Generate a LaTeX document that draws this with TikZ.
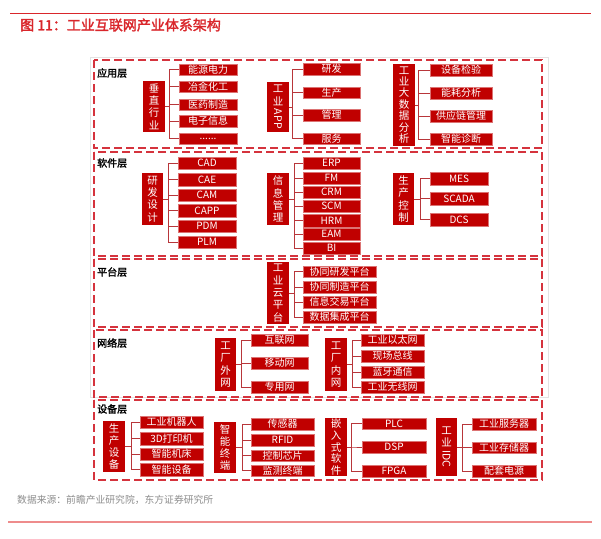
\documentclass[tikz,border=0pt]{standalone}
\usepackage{fontspec}
\setmainfont{Noto Sans CJK SC}
\newfontfamily\cjkbold[FakeBold=2]{Noto Sans CJK SC}
\definecolor{boxred}{HTML}{C00000}
\definecolor{dashred}{HTML}{D5333D}
\definecolor{linered}{HTML}{B8363A}
\definecolor{titlered}{HTML}{D9262B}
\definecolor{framegray}{HTML}{E3E3E3}
\definecolor{srcgray}{HTML}{8C8C8C}
\definecolor{footline}{HTML}{EE8C8C}
\tikzset{
  itembox/.style={fill=boxred, draw=boxred!55!white, line width=0.5pt, text=white, inner sep=0pt, font=\fontsize{10}{10}\selectfont},
  catbox/.style={fill=boxred, text=white, inner sep=0pt, align=center, font=\fontsize{10.5}{12.3}\selectfont},
  layerbox/.style={draw=dashred, line width=1.3pt, dash pattern=on 8pt off 4pt},
  conn/.style={draw=linered, line width=0.9pt},
  layerlabel/.style={anchor=west, inner sep=0pt, font=\cjkbold\fontsize{10}{12}\selectfont}
}
\newcommand\bx[7]{\node[#1, minimum width={(#5-#3)*1pt}, minimum height={(#6-#4)*1pt}] (#2) at ({(#3+#5)/2},{(#4+#6)/2}) {#7};}
\newcommand\brk[3]{\foreach \t in {#3} {\draw[conn] (#1.east) -| ([xshift=-#2pt]\t.west) -- (\t.west);}}
\newcommand\rotlat[1]{\raisebox{0.82em}{\rotatebox{-90}{#1}}}
\begin{document}
\begin{tikzpicture}[x=1pt,y=-1pt]
\useasboundingbox (0,0) rectangle (601,538);
% header
\draw[titlered, line width=1pt] (10,13) -- (591,13);
\node[anchor=west, inner sep=0pt, text=titlered, font=\cjkbold\fontsize{14}{16}\selectfont] (title) at (20,25) {图 11：工业互联网产业体系架构};
% frame
\draw[framegray, line width=1pt] (90,57) rectangle (548,397);
% layers
\draw[layerbox] (94,60) rectangle (542,148);
\draw[layerbox] (94,152) rectangle (542,256);
\draw[layerbox] (94,259) rectangle (542,327);
\draw[layerbox] (94,330) rectangle (542,397);
\draw[layerbox] (94,400) rectangle (542,480);
\node[layerlabel] (l1) at (97,73) {应用层};
\node[layerlabel] (l2) at (97,163) {软件层};
\node[layerlabel] (l3) at (97,272) {平台层};
\node[layerlabel] (l4) at (97,343) {网络层};
\node[layerlabel] (l5) at (97,409) {设备层};
% ---- layer 1
\bx{catbox}{a1}{143}{81}{165}{132}{垂\\直\\行\\业}
\bx{itembox}{a11}{179}{64}{237}{75}{能源电力}
\bx{itembox}{a12}{179}{81}{237}{92}{冶金化工}
\bx{itembox}{a13}{179}{99}{237}{110}{医药制造}
\bx{itembox}{a14}{179}{115}{237}{127}{电子信息}
\bx{itembox}{a15}{179}{133}{237}{144}{......}
\brk{a1}{9}{a11,a12,a13,a14,a15}
\bx{catbox}{a2}{267}{82}{289}{132}{工\\业\\\rotlat{APP}}
\bx{itembox}{a21}{303}{63}{360}{75}{研发}
\bx{itembox}{a22}{303}{87}{360}{98}{生产}
\bx{itembox}{a23}{303}{109}{360}{121}{管理}
\bx{itembox}{a24}{303}{133}{360}{144}{服务}
\brk{a2}{10}{a21,a22,a23,a24}
\bx{catbox,font=\fontsize{10.5}{11.4}\selectfont}{a3}{393}{64}{415}{146}{工\\业\\大\\数\\据\\分\\析}
\bx{itembox}{a31}{430}{64}{492}{76}{设备检验}
\bx{itembox}{a32}{430}{87}{492}{99}{能耗分析}
\bx{itembox}{a33}{430}{110}{492}{122}{供应链管理}
\bx{itembox}{a34}{430}{133}{492}{145}{智能诊断}
\brk{a3}{11}{a31,a32,a33,a34}
% ---- layer 2
\bx{catbox}{b1}{142}{173}{163}{225}{研\\发\\设\\计}
\bx{itembox}{b11}{178}{157}{236}{169}{CAD}
\bx{itembox}{b12}{178}{173}{236}{186}{CAE}
\bx{itembox}{b13}{178}{189}{236}{201}{CAM}
\bx{itembox}{b14}{178}{204}{236}{217}{CAPP}
\bx{itembox}{b15}{178}{220}{236}{232}{PDM}
\bx{itembox}{b16}{178}{236}{236}{248}{PLM}
\brk{b1}{9}{b11,b12,b13,b14,b15,b16}
\bx{catbox}{b2}{267}{173}{289}{225}{信\\息\\管\\理}
\bx{itembox}{b21}{303}{157}{360}{169}{ERP}
\bx{itembox}{b22}{303}{172}{360}{184}{FM}
\bx{itembox}{b23}{303}{186}{360}{198}{CRM}
\bx{itembox}{b24}{303}{200}{360}{212}{SCM}
\bx{itembox}{b25}{303}{214}{360}{227}{HRM}
\bx{itembox}{b26}{303}{228}{360}{240}{EAM}
\bx{itembox}{b27}{303}{242}{360}{254}{BI}
\brk{b2}{8}{b21,b22,b23,b24,b25,b26,b27}
\bx{catbox}{b3}{393}{173}{414}{225}{生\\产\\控\\制}
\bx{itembox}{b31}{430}{172}{488}{185}{MES}
\bx{itembox}{b32}{430}{192}{488}{205}{SCADA}
\bx{itembox}{b33}{430}{213}{488}{226}{DCS}
\brk{b3}{9}{b31,b32,b33}
% ---- layer 3
\bx{catbox}{c1}{267}{262}{289}{324}{工\\业\\云\\平\\台}
\bx{itembox}{c11}{303}{266}{376}{277}{协同研发平台}
\bx{itembox}{c12}{303}{281}{376}{293}{协同制造平台}
\bx{itembox}{c13}{303}{296}{376}{308}{信息交易平台}
\bx{itembox}{c14}{303}{311}{376}{323}{数据集成平台}
\brk{c1}{8}{c11,c12,c13,c14}
% ---- layer 4
\bx{catbox}{d1}{215}{338}{236}{391}{工\\厂\\外\\网}
\bx{itembox}{d11}{251}{334}{308}{346}{互联网}
\bx{itembox}{d12}{251}{357}{308}{369}{移动网}
\bx{itembox}{d13}{251}{381}{308}{393}{专用网}
\brk{d1}{9}{d11,d12,d13}
\bx{catbox}{d2}{325}{338}{347}{391}{工\\厂\\内\\网}
\bx{itembox}{d21}{361}{334}{424}{346}{工业以太网}
\bx{itembox}{d22}{361}{350}{424}{362}{现场总线}
\bx{itembox}{d23}{361}{366}{424}{378}{蓝牙通信}
\bx{itembox}{d24}{361}{381}{424}{393}{工业无线网}
\brk{d2}{8}{d21,d22,d23,d24}
% ---- layer 5
\bx{catbox}{e1}{103}{421}{125}{472}{生\\产\\设\\备}
\bx{itembox}{e11}{140}{416}{203}{428}{工业机器人}
\bx{itembox}{e12}{140}{432}{203}{445}{3D打印机}
\bx{itembox}{e13}{140}{448}{203}{460}{智能机床}
\bx{itembox}{e14}{140}{463}{203}{476}{智能设备}
\brk{e1}{8}{e11,e12,e13,e14}
\bx{catbox}{e2}{214}{422}{236}{473}{智\\能\\终\\端}
\bx{itembox}{e21}{251}{418}{314}{430}{传感器}
\bx{itembox}{e22}{251}{434}{314}{446}{RFID}
\bx{itembox}{e23}{251}{450}{314}{461}{控制芯片}
\bx{itembox}{e24}{251}{465}{314}{476}{监测终端}
\brk{e2}{8}{e21,e22,e23,e24}
\bx{catbox,font=\fontsize{10.5}{11.6}\selectfont}{e3}{325}{418}{347}{476}{嵌\\入\\式\\软\\件}
\bx{itembox}{e31}{362}{418}{426}{429}{PLC}
\bx{itembox}{e32}{362}{441}{426}{453}{DSP}
\bx{itembox}{e33}{362}{465}{426}{477}{FPGA}
\brk{e3}{10}{e31,e32,e33}
\bx{catbox}{e4}{436}{418}{457}{476}{工\\业\\\rotlat{IDC}}
\bx{itembox}{e41}{472}{418}{536}{430}{工业服务器}
\bx{itembox}{e42}{472}{442}{536}{453}{工业存储器}
\bx{itembox}{e43}{472}{465}{536}{477}{配套电源}
\brk{e4}{9}{e41,e42,e43}
% footer
\node[anchor=west, inner sep=0pt, text=srcgray, font=\fontsize{9.8}{11}\selectfont] (src) at (17,500) {数据来源：前瞻产业研究院，东方证券研究所};
\draw[footline, line width=1.5pt] (8,522) -- (592,522);
\end{tikzpicture}
\end{document}
